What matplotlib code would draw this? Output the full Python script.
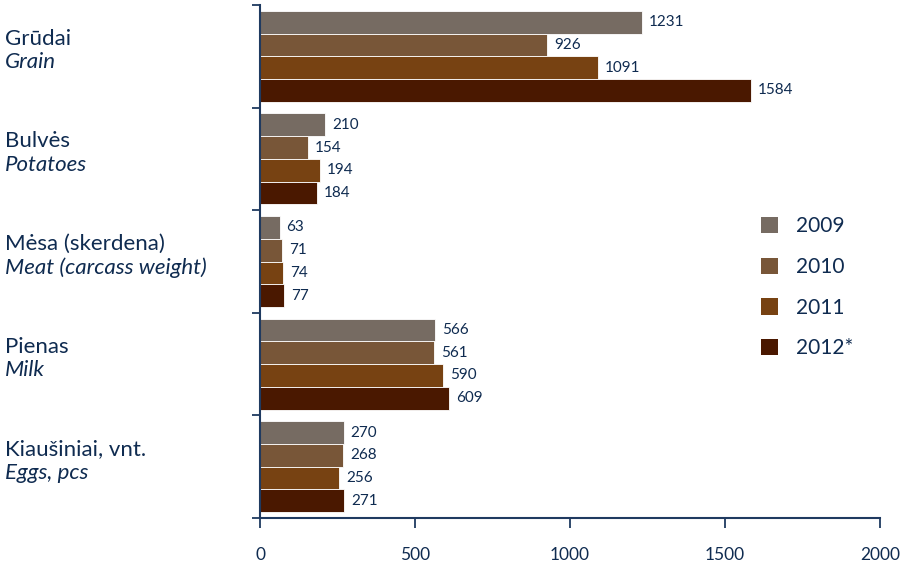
import matplotlib
matplotlib.use("Agg")
import matplotlib.pyplot as plt
from matplotlib.patches import Patch
import numpy as np

# dati
cat_lt = ["Grūdai", "Bulvės", "Mėsa (skerdena)", "Pienas", "Kiaušiniai, vnt."]
cat_en = ["Grain", "Potatoes", "Meat (carcass weight)", "Milk", "Eggs, pcs"]
years = ["2009", "2010", "2011", "2012*"]
v2009 = [1231, 210, 63, 566, 270]
v2010 = [926, 154, 71, 561, 268]
v2011 = [1091, 194, 74, 590, 256]
v2012 = [1584, 184, 77, 609, 271]
xticks = [0, 500, 1000, 1500, 2000]

colors = ["#766b62", "#785638", "#774212", "#4a1800"]
navy = "#0f2b50"
axcol = "#1f3a60"

main_font = ["Lato", "DejaVu Sans"]

fig = plt.figure(figsize=(9.06, 5.64), dpi=100)
ax = fig.add_axes([260/906, 1-518/564, 620/906, 513/564])

series = [v2009, v2010, v2011, v2012]
n = len(cat_lt)
y = np.arange(n)
h = 0.222
for j, vals in enumerate(series):
    pos = y + (j - 1.5) * h
    ax.barh(pos, vals, height=h, color=colors[j], edgecolor="white", linewidth=0.6)
    for p, v in zip(pos, vals):
        ax.annotate(str(v), (v, p), xytext=(5, 0), textcoords="offset points",
                    va="center", ha="left", fontsize=11, color=navy, family=main_font)

ax.set_xlim(0, 2000)
ax.set_ylim(n - 0.5, -0.5)

ax.spines["top"].set_visible(False)
ax.spines["right"].set_visible(False)
ax.spines["left"].set_color(axcol)
ax.spines["bottom"].set_color(axcol)
ax.spines["left"].set_linewidth(1.5)
ax.spines["bottom"].set_linewidth(1.5)

ax.set_yticks(np.arange(-0.5, n, 1.0))
ax.set_yticklabels([])
ax.tick_params(axis="y", direction="out", length=6, width=1.3, color=axcol)
ax.set_xticks(xticks)
ax.set_xticklabels([str(t) for t in xticks])
ax.tick_params(axis="x", direction="out", length=7, width=1.3, color=axcol, pad=14,
               labelsize=12.5, labelcolor=navy)
for lab in ax.get_xticklabels():
    lab.set_family(main_font)

trans = matplotlib.transforms.blended_transform_factory(fig.transFigure, ax.transData)
for i in range(n):
    ax.text(5/906, i - 0.17, cat_lt[i], transform=trans, ha="left", va="center",
            fontsize=16, color=navy, family=main_font)
    ax.text(5/906, i + 0.06, cat_en[i], transform=trans, ha="left", va="center",
            fontsize=16, color=navy, family=main_font, style="italic")

handles = [Patch(facecolor=c, edgecolor="none") for c in colors]
fig.legend(handles, years, loc="upper left", bbox_to_anchor=(761/906, 1-216/564),
           frameon=False, borderpad=0, borderaxespad=0,
           handlelength=0.82, handleheight=0.82, handletextpad=0.85,
           labelspacing=1.0, labelcolor=navy, prop={"family": main_font, "size": 15})

plt.savefig("out.png", dpi=100)
plt.close()
